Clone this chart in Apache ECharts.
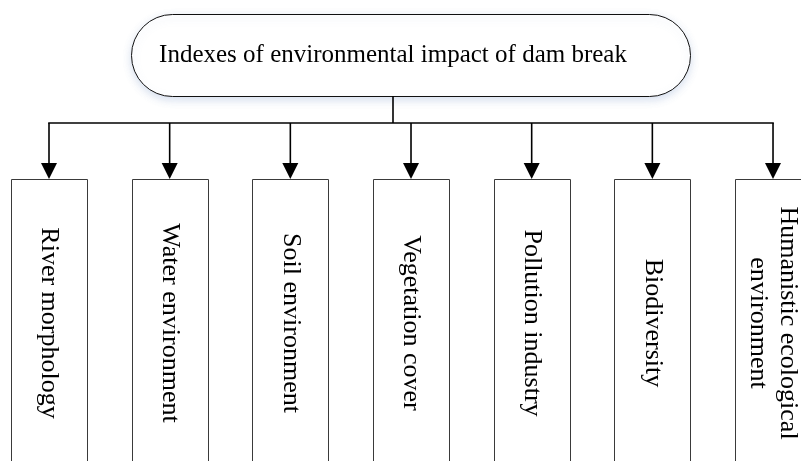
<!DOCTYPE html>
<html>
<head>
<meta charset="utf-8">
<script src="https://cdn.jsdelivr.net/npm/echarts@6/dist/echarts.min.js"></script>
<style>html,body{margin:0;padding:0;background:#fff;}#c{width:801px;height:461px;}</style>
</head>
<body>
<div id="c"></div>
<script>
// ---- data ----
const rootLabel = ['Indexes of environmental impact of dam break'];
const childLabels = [
  'River morphology',
  'Water environment',
  'Soil environment',
  'Vegetation cover',
  'Pollution industry',
  'Biodiversity',
  'Humanistic ecological\nenvironment'
];

// ---- layout (diagram space = pixel space of an invisible value grid) ----
const FONT = '"Liberation Serif","Times New Roman",serif';
const L = {
  rootX0: 131, rootX1: 690, rootY0: 14, rootY1: 96, rootTextX: 393,
  busY: 123,
  childX0: 49, childStep: 120.67, childHalfW: 38,
  arrowTop: 163, boxTop: 179, boxBottom: 480, textMidY: 323
};
const childX = i => L.childX0 + i * L.childStep;

const chart = echarts.init(document.getElementById('c'), null, {renderer: 'canvas'});

const option = {
  backgroundColor: '#ffffff',
  animation: false,
  grid: {left: 0, right: 0, top: 0, bottom: 0},
  xAxis: {type: 'value', min: 0, max: 801, show: false},
  yAxis: {type: 'value', min: 0, max: 461, inverse: true, show: false},
  series: [
    {
      type: 'custom',
      name: 'root',
      clip: false,
      data: rootLabel.map((t, i) => [i]),
      renderItem: function (params, api) {
        const p0 = api.coord([L.rootX0, L.rootY0]);
        const p1 = api.coord([L.rootX1, L.rootY1]);
        const tc = api.coord([L.rootTextX, (L.rootY0 + L.rootY1) / 2]);
        const s0 = api.coord([L.rootTextX, L.rootY1]);
        const s1 = api.coord([L.rootTextX, L.busY]);
        const h = p1[1] - p0[1];
        return {
          type: 'group',
          children: [
            {
              type: 'rect',
              shape: {x: p0[0] + 0.5, y: p0[1] + 0.5, width: p1[0] - p0[0], height: h, r: h / 2},
              style: {fill: '#ffffff', stroke: '#111', lineWidth: 1,
                shadowBlur: 8, shadowColor: 'rgba(120,150,200,0.30)', shadowOffsetY: 3}
            },
            {
              type: 'text',
              x: tc[0], y: tc[1],
              style: {text: rootLabel[params.dataIndex], font: '25px ' + FONT, fill: '#000',
                align: 'center', verticalAlign: 'middle'}
            },
            {
              type: 'line',
              shape: {x1: s0[0], y1: s0[1], x2: s1[0], y2: s1[1]},
              style: {stroke: '#000', lineWidth: 1.6}
            }
          ]
        };
      }
    },
    {
      type: 'custom',
      name: 'bus',
      clip: false,
      data: [[0]],
      renderItem: function (params, api) {
        const a = api.coord([childX(0), L.busY]);
        const b = api.coord([childX(childLabels.length - 1), L.busY]);
        return {
          type: 'line',
          shape: {x1: a[0] - 0.8, y1: a[1], x2: b[0] + 0.8, y2: b[1]},
          style: {stroke: '#000', lineWidth: 1.6}
        };
      }
    },
    {
      type: 'custom',
      name: 'children',
      clip: false,
      data: childLabels.map((t, i) => [i]),
      renderItem: function (params, api) {
        const i = api.value(0);
        const cx = childX(i);
        const top = api.coord([cx, L.busY]);
        const at = api.coord([cx, L.arrowTop]);
        const tip = api.coord([cx, L.boxTop]);
        const bl = api.coord([cx - L.childHalfW, L.boxTop]);
        const br = api.coord([cx + L.childHalfW, L.boxBottom]);
        const tm = api.coord([cx, L.textMidY]);
        return {
          type: 'group',
          children: [
            {
              type: 'rect',
              shape: {x: Math.round(bl[0]) + 0.5, y: Math.round(bl[1]) + 0.5,
                width: Math.round(br[0] - bl[0]), height: br[1] - bl[1]},
              style: {fill: '#ffffff', stroke: '#3a3a3a', lineWidth: 1}
            },
            {
              type: 'line',
              shape: {x1: top[0], y1: top[1], x2: at[0], y2: at[1] + 1},
              style: {stroke: '#000', lineWidth: 1.6}
            },
            {
              type: 'polygon',
              shape: {points: [[at[0] - 8, at[1]], [at[0] + 8, at[1]], [tip[0], tip[1]]]},
              style: {fill: '#000'}
            },
            {
              type: 'text',
              x: tm[0], y: tm[1],
              rotation: -Math.PI / 2,
              style: {text: childLabels[i], font: '26px ' + FONT, fill: '#000',
                align: 'center', verticalAlign: 'middle', lineHeight: 30}
            }
          ]
        };
      }
    }
  ]
};
chart.setOption(option);
</script>
</body>
</html>
